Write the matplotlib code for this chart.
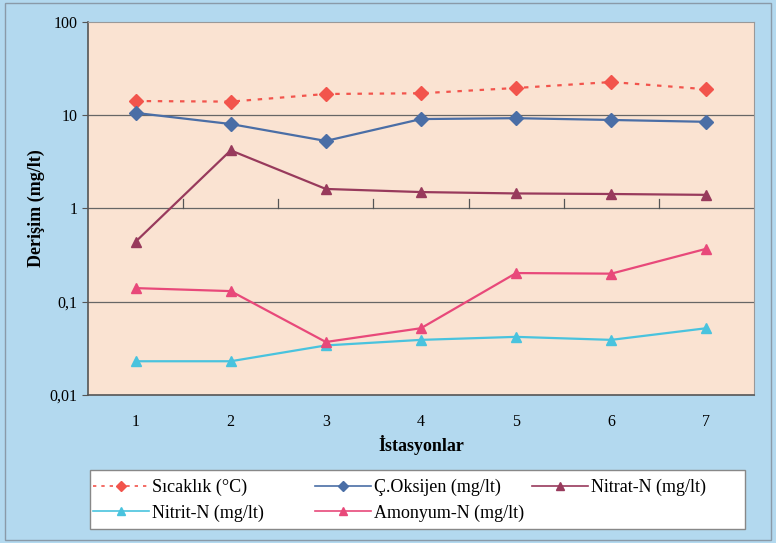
import matplotlib.pyplot as plt
from matplotlib.ticker import FixedLocator, FixedFormatter, NullLocator
from matplotlib.patches import Rectangle

stations = [1, 2, 3, 4, 5, 6, 7]
sicaklik = [14.2, 14.0, 16.9, 17.2, 19.6, 22.7, 19.0]
oksijen = [10.6, 8.05, 5.3, 9.1, 9.3, 8.9, 8.5]
nitrat = [0.44, 4.2, 1.62, 1.5, 1.45, 1.43, 1.4]
nitrit = [0.023, 0.023, 0.034, 0.039, 0.042, 0.039, 0.052]
amonyum = [0.14, 0.13, 0.037, 0.052, 0.203, 0.2, 0.37]

y_ticks = [0.01, 0.1, 1, 10, 100]
y_labels = ["0,01", "0,1", "1", "10", "100"]

plt.rcParams['font.family'] = ['Liberation Serif', 'DejaVu Serif']

fig = plt.figure(figsize=(7.76, 5.43), dpi=100)
fig.patch.set_facecolor('#b3d9ef')
fig.patches.append(Rectangle((0.006, 0.006), 0.988, 0.988, transform=fig.transFigure,
                             facecolor='none', edgecolor='#8a9aa8', lw=1.0))

ax = fig.add_axes([0.1134, 0.2726, 0.8582, 0.6869])
ax.set_facecolor('#fae3d2')

series = [
    (sicaklik, "Sıcaklık (°C)", '#f2544c', 'D', (0, (2, 3))),
    (oksijen, "Ç.Oksijen (mg/lt)", '#4a6ea6', 'D', '-'),
    (nitrat, "Nitrat-N (mg/lt)", '#983a5c', '^', '-'),
    (nitrit, "Nitrit-N (mg/lt)", '#49c3de', '^', '-'),
    (amonyum, "Amonyum-N (mg/lt)", '#e8497a', '^', '-'),
]
handles = []
for vals, label, color, marker, ls in series:
    h, = ax.plot(stations, vals, color=color, linestyle=ls, lw=1.6, marker=marker,
                 markersize=7, markeredgecolor=color, label=label, zorder=3)
    handles.append(h)

ax.set_yscale('log')
ax.set_ylim(0.01, 100)
ax.set_xlim(0.5, 7.5)
ax.yaxis.set_major_locator(FixedLocator(y_ticks))
ax.yaxis.set_major_formatter(FixedFormatter(y_labels))
ax.yaxis.set_minor_locator(NullLocator())
ax.set_xticks(stations)
ax.tick_params(axis='x', length=0, pad=14, labelsize=11.5)
ax.tick_params(axis='y', length=4, direction='out', labelsize=11.5, color='#555555')

for y in [0.1, 1, 10]:
    ax.axhline(y, color='#666666', lw=0.9, zorder=1)
# category axis crossing at 1 with tick marks between categories
for x in [1.5, 2.5, 3.5, 4.5, 5.5, 6.5]:
    ax.plot([x, x], [1, 1.25], color='#555555', lw=0.9, zorder=2)

for side in ['top', 'right']:
    ax.spines[side].set_color('#999999')
for side in ['left', 'bottom']:
    ax.spines[side].set_color('#555555')
    ax.spines[side].set_linewidth(1.2)

ax.set_ylabel("Derişim (mg/lt)", fontsize=13, fontweight='bold', labelpad=3)
ax.set_xlabel("İstasyonlar", fontsize=13, fontweight='bold', labelpad=3)

# legend frame, then one frameless legend per column
fig.patches.append(Rectangle((0.116, 1 - 529 / 543), 0.844, 59 / 543,
                             transform=fig.transFigure, facecolor='white',
                             edgecolor='#888888', lw=1.0, zorder=1))
columns = [([0, 3], 93), ([1, 4], 315), ([2], 532)]
for idx, xpix in columns:
    leg = fig.legend([handles[i] for i in idx], [series[i][1] for i in idx],
                     loc='upper left', bbox_to_anchor=(xpix / 776, 1 - 479 / 543),
                     frameon=False, prop={'family': ['Liberation Serif'], 'size': 13},
                     handlelength=3.1, handletextpad=0.15, borderpad=0,
                     borderaxespad=0, labelspacing=0.45, markerscale=0.75)
    for line in leg.get_lines():
        line.set_linewidth(1.2)

fig.savefig("out.png", dpi=100, facecolor=fig.get_facecolor())
